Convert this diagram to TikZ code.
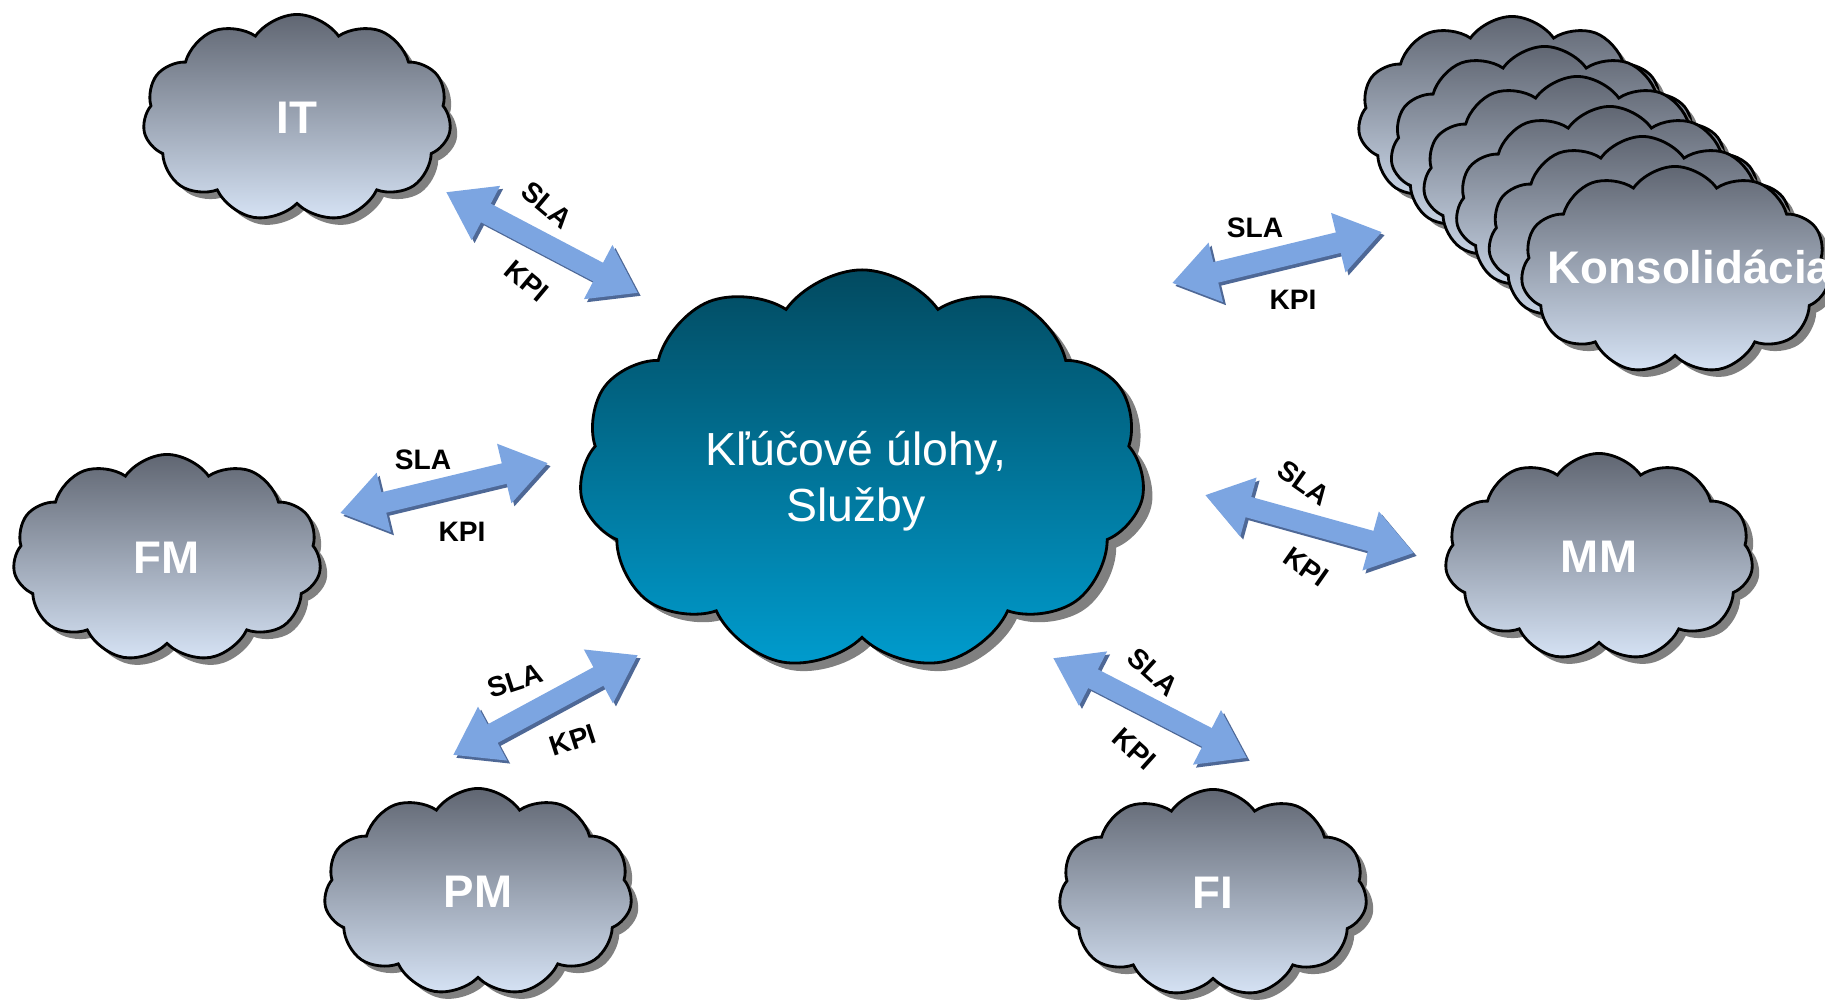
\documentclass[tikz,border=0pt]{standalone}
\usepackage{fontspec}
\setmainfont{Liberation Sans}
\usetikzlibrary{shapes.symbols,shadows,arrows.meta}

\definecolor{cloudtop}{RGB}{96,102,114}
\definecolor{cloudbot}{RGB}{214,227,245}
\definecolor{coretop}{RGB}{2,74,96}
\definecolor{corebot}{RGB}{0,156,206}
\definecolor{arrowblue}{RGB}{124,165,225}
\definecolor{arrowdark}{RGB}{78,104,150}

\begin{document}
\begin{tikzpicture}[
	x=0.01cm, y=-0.01cm,
	cloudbox/.style={cloud, cloud puffs=11, cloud puff arc=110, aspect=1.5, draw=black, line width=0.8pt,
		top color=cloudtop, bottom color=cloudbot, minimum width=3.08cm, minimum height=2.07cm, inner sep=0pt,
		drop shadow={shadow xshift=0.07cm, shadow yshift=-0.07cm, fill=black!50, opacity=1},
		text=white, font=\bfseries\fontsize{13}{15}\selectfont},
	core/.style={cloudbox, top color=coretop, bottom color=corebot, minimum width=5.66cm, minimum height=4.0cm,
		drop shadow={shadow xshift=0.09cm, shadow yshift=-0.08cm, fill=black!50, opacity=1}},
	link/.style={line width=0.21cm, draw=arrowblue,
		{Triangle[length=0.45cm, width=0.58cm]}-{Triangle[length=0.45cm, width=0.58cm]}},
	linkshade/.style={link, draw=arrowdark, transform canvas={shift={(0.03cm,-0.03cm)}}},
	tag/.style={font=\bfseries\fontsize{8}{9}\selectfont}
	]
	\useasboundingbox (0,0) rectangle (1825,1002);
	
	% Clouds
	\node[core] (core) at (862,470) {};
	\node[align=center, text=white, font=\fontsize{13.2}{15.8}\selectfont] (coretext) at (856,481) {Kľúčové úlohy,\\Služby};
	\node[cloudbox] (it) at (297,118) {IT};
	\node[cloudbox] (fm) at (167,558) {FM};
	\node[cloudbox] (pm) at (478,892) {PM};
	\node[cloudbox] (fi) at (1213,893) {FI};
	\node[cloudbox] (mm) at (1599,557) {MM};
	
	% Stack
	\foreach \i in {0,...,5}
		\node[cloudbox] (kons\i) at (1512+32.6*\i,120+30*\i) {};
	\node[anchor=base, text=white, font=\bfseries\fontsize{13}{15}\selectfont] (konslabel) at (1690,283) {Konsolidácia};
	
	% Arrow ends
	\coordinate (itA) at (446,192);   \coordinate (itB) at (638,293);
	\coordinate (konsA) at (1172,283); \coordinate (konsB) at (1382,232);
	\coordinate (fmA) at (340,513);   \coordinate (fmB) at (548,463);
	\coordinate (mmA) at (1205,495);  \coordinate (mmB) at (1414,553);
	\coordinate (pmA) at (453,755);   \coordinate (pmB) at (638,655);
	\coordinate (fiA) at (1053,658);  \coordinate (fiB) at (1247,758);
	
	% Arrows
	\foreach \a in {it,kons,fm,mm,pm,fi} {
		\draw[linkshade] (\a A) -- (\a B);
		\draw[link] (\a A) -- (\a B);
	}
	
	% Labels
	\node[tag, rotate=-40] (itsla) at (547,205) {SLA};
	\node[tag, rotate=-40] (itkpi) at (527,281) {KPI};
	\node[tag] (konssla) at (1255,228) {SLA};
	\node[tag] (konskpi) at (1293,300) {KPI};
	\node[tag] (fmsla) at (423,460) {SLA};
	\node[tag] (fmkpi) at (462,532) {KPI};
	\node[tag, rotate=-35] (mmsla) at (1304,483) {SLA};
	\node[tag, rotate=-35] (mmkpi) at (1306,567) {KPI};
	\node[tag, rotate=18] (pmsla) at (515,681) {SLA};
	\node[tag, rotate=18] (pmkpi) at (573,740) {KPI};
	\node[tag, rotate=-42] (fisla) at (1153,672) {SLA};
	\node[tag, rotate=-42] (fikpi) at (1134,749) {KPI};
	
\end{tikzpicture}
\end{document}
